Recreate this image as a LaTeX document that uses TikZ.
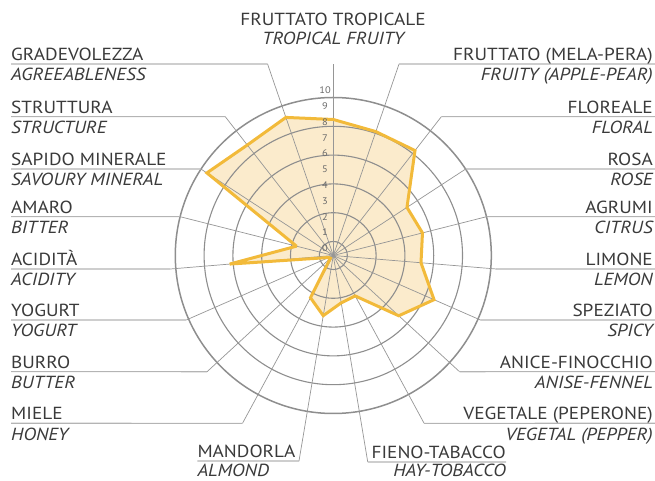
\documentclass[tikz,border=0pt]{standalone}
\usepackage{fontspec}
\setmainfont{PT Sans}[FakeStretch=1.1]
\usetikzlibrary{calc}
\definecolor{txt}{HTML}{3A3A3A}
\definecolor{gridc}{HTML}{8E8E8E}
\definecolor{leadc}{HTML}{969696}
\definecolor{ulinec}{HTML}{B4B4B4}
\definecolor{gold}{HTML}{F2BA3A}
\definecolor{goldfill}{HTML}{FBEBCC}
\definecolor{numc}{HTML}{6A6A6A}
\begin{document}
\begin{tikzpicture}[x=1pt,y=1pt,
  itl/.style={font=\fontsize{17.5}{19}\selectfont, text=txt, inner sep=0pt},
  enl/.style={font=\fontsize{17.5}{19}\selectfont\itshape, text=txt, inner sep=0pt},
  numl/.style={font=\fontsize{9.5}{10}\selectfont, text=numc, inner sep=0pt},
  ring/.style={draw=gridc, line width=1.1pt},
  outerring/.style={draw=gridc, line width=1.5pt},
  spoke/.style={draw=leadc, line width=0.7pt},
  uline/.style={draw=ulinec, line width=1.1pt},
  poly/.style={draw=gold, line width=3pt, line join=miter, miter limit=2}]
\useasboundingbox (0,0) rectangle (655,481);
\coordinate (C) at (333.3,225.5);
% polygon points
\foreach \k/\r in {0/136,1/131,2/133,3/88,4/92,5/88,6/110,7/89,8/46,9/48,10/61,11/48,12/4,13/5,14/104,15/38,16/151,17/140,18/146}{
  \pgfmathsetmacro\th{90-\k*360/19}
  \coordinate (p\k) at ($(C)+(\th:\r)$);
}
\fill[goldfill] (p0)--(p1)--(p2)--(p3)--(p4)--(p5)--(p6)--(p7)--(p8)--(p9)--(p10)--(p11)--(p12)--(p13)--(p14)--(p15)--(p16)--(p17)--(p18)--cycle;
% rings
\foreach \r in {14,42.8,71.6,100.4,129.2}{
  \draw[ring] (C) circle[radius=\r];
}
\draw[outerring] (C) circle[radius=158];
% top spoke
\coordinate (c0) at ($(C)+(90:191.5)$);
\draw[spoke] (C) -- (c0);
\node[itl, anchor=base] (i0) at (333,455) {FRUTTATO TROPICALE};
\node[enl, anchor=base] (e0) at (333.3,436) {TROPICAL FRUITY};
% left labels
\foreach \k/\U/\ita/\eng in {18/64/GRADEVOLEZZA/AGREEABLENESS,17/116.7/STRUTTURA/STRUCTURE,16/169/SAPIDO MINERALE/SAVOURY MINERAL,15/216.7/AMARO/BITTER,14/269/ACIDIT\`A/ACIDITY,13/320/YOGURT/YOGURT,12/371.7/BURRO/BUTTER,11/423.3/MIELE/HONEY}{
  \pgfmathsetmacro\th{90-\k*360/19}
  \pgfmathsetmacro\t{(481-\U-225.5)/sin(\th)}
  \pgfmathsetmacro\yy{481-\U}
  \coordinate (c\k) at ($(C)+(\th:\t)$);
  \coordinate (u\k) at (11,\yy);
  \draw[spoke] (C) -- (c\k);
  \draw[uline] (u\k) -- (c\k);
  \node[itl, anchor=base west] (i\k) at ($(u\k)+(0,3.5)$) {\ita};
  \node[enl, anchor=base west] (e\k) at ($(u\k)+(0,-17)$) {\eng};
}
% right labels
\foreach \k/\U/\ita/\eng in {1/64/FRUTTATO (MELA-PERA)/FRUITY (APPLE-PEAR),2/116.7/FLOREALE/FLORAL,3/169/ROSA/ROSE,4/216.7/AGRUMI/CITRUS,5/269/LIMONE/LEMON,6/320/SPEZIATO/SPICY,7/371.7/ANICE-FINOCCHIO/ANISE-FENNEL,8/423.3/VEGETALE (PEPERONE)/VEGETAL (PEPPER)}{
  \pgfmathsetmacro\th{90-\k*360/19}
  \pgfmathsetmacro\t{(481-\U-225.5)/sin(\th)}
  \pgfmathsetmacro\yy{481-\U}
  \coordinate (c\k) at ($(C)+(\th:\t)$);
  \coordinate (u\k) at (655,\yy);
  \draw[spoke] (C) -- (c\k);
  \draw[uline] (c\k) -- (u\k);
  \node[itl, anchor=base east] (i\k) at ($(u\k)+(-2,3.5)$) {\ita};
  \node[enl, anchor=base east] (e\k) at ($(u\k)+(-2,-17)$) {\eng};
}
% bottom labels
\pgfmathsetmacro\thA{90-10*360/19}
\pgfmathsetmacro\tA{(481-461-225.5)/sin(\thA)}
\coordinate (c10) at ($(C)+(\thA:\tA)$);
\coordinate (u10) at (197.3,20);
\draw[spoke] (C) -- (c10);
\draw[uline] (u10) -- (c10);
\node[itl, anchor=base west] (i10) at ($(u10)+(0,3.5)$) {MANDORLA};
\node[enl, anchor=base west] (e10) at ($(u10)+(0,-15.5)$) {ALMOND};
\pgfmathsetmacro\thB{90-9*360/19}
\pgfmathsetmacro\tB{(481-462-225.5)/sin(\thB)}
\coordinate (c9) at ($(C)+(\thB:\tB)$);
\coordinate (u9) at (506,19);
\draw[spoke] (C) -- (c9);
\draw[uline] (c9) -- (u9);
\node[itl, anchor=base east] (i9) at ($(u9)+(0,3.5)$) {FIENO-TABACCO};
\node[enl, anchor=base east] (e9) at ($(u9)+(0,-14.5)$) {HAY-TOBACCO};
% polygon outline
\draw[poly] (p0)--(p1)--(p2)--(p3)--(p4)--(p5)--(p6)--(p7)--(p8)--(p9)--(p10)--(p11)--(p12)--(p13)--(p14)--(p15)--(p16)--(p17)--(p18)--cycle;
% scale numbers
\foreach \v in {0,...,10}{
  \pgfmathsetmacro\ny{481-248.3+15.8*\v}
  \node[numl] (n\v) at (325,\ny) {\v};
}
\end{tikzpicture}
\end{document}
